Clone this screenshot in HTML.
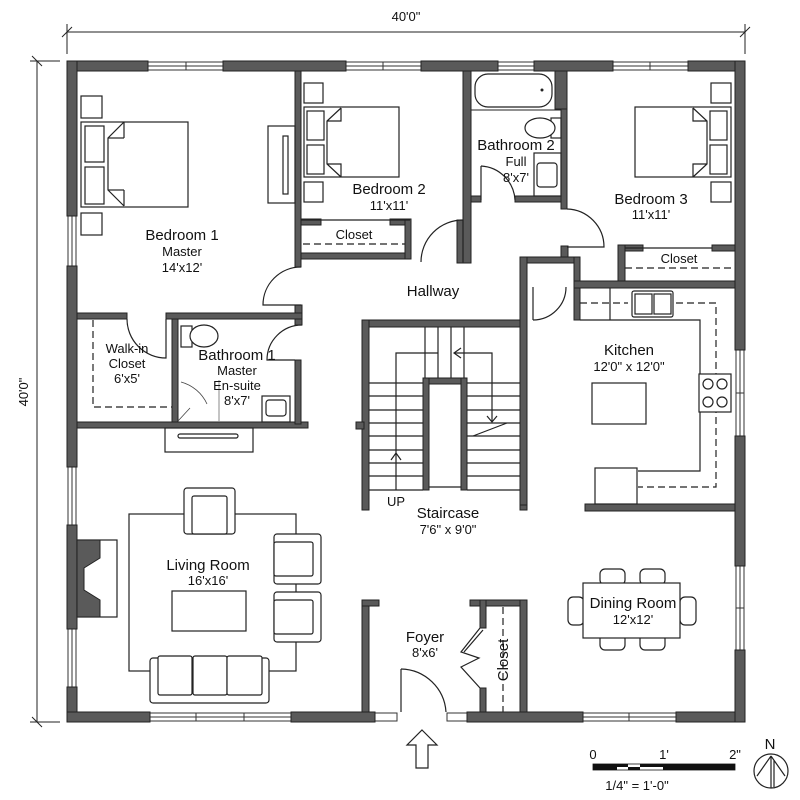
<!DOCTYPE html>
<html><head><meta charset="utf-8"><style>
html,body{margin:0;padding:0;background:#fff;width:800px;height:800px;overflow:hidden}
svg{display:block}
text{font-family:"Liberation Sans",Arial,sans-serif;fill:#111}
</style></head><body>
<svg width="800" height="800" viewBox="0 0 800 800" xmlns="http://www.w3.org/2000/svg">
<defs>
<style>
.w{fill:#5a5a5a;stroke:#222;stroke-width:1}
.f{fill:#fff;stroke:#222;stroke-width:1.2}
.l{fill:none;stroke:#222;stroke-width:1.2}
.d{fill:none;stroke:#222;stroke-width:1.2;stroke-dasharray:7 4}
.win{fill:#fff;stroke:#333;stroke-width:1}
.t1{font-size:15px;text-anchor:middle}
.t2{font-size:13px;text-anchor:middle}
</style>
</defs>

<!-- dimensions -->
<line x1="67" y1="32" x2="745" y2="32" stroke="#222"/>
<line x1="67" y1="24" x2="67" y2="54" stroke="#222"/>
<line x1="745" y1="24" x2="745" y2="54" stroke="#222"/>
<line x1="62" y1="37" x2="72" y2="27" stroke="#222"/>
<line x1="740" y1="37" x2="750" y2="27" stroke="#222"/>
<text x="406" y="21" class="t2">40'0"</text>
<line x1="37" y1="61" x2="37" y2="722" stroke="#222"/>
<line x1="30" y1="61" x2="60" y2="61" stroke="#222"/>
<line x1="30" y1="722" x2="60" y2="722" stroke="#222"/>
<line x1="32" y1="56" x2="42" y2="66" stroke="#222"/>
<line x1="32" y1="717" x2="42" y2="727" stroke="#222"/>
<text x="28" y="392" class="t2" transform="rotate(-90 28 392)">40'0"</text>

<!-- windows (outer) -->
<g class="win">
<rect x="148" y="62" width="75" height="8"/><rect x="346" y="62" width="75" height="8"/>
<rect x="498" y="62" width="36" height="8"/><rect x="613" y="62" width="75" height="8"/>
<rect x="68" y="216" width="8" height="50"/><rect x="68" y="467" width="8" height="58"/><rect x="68" y="629" width="8" height="58"/>
<rect x="150" y="713" width="141" height="8"/><rect x="375" y="713" width="22" height="8"/><rect x="447" y="713" width="20" height="8"/>
<rect x="583" y="713" width="93" height="8"/>
<rect x="736" y="350" width="8" height="86"/><rect x="736" y="566" width="8" height="84"/>
</g>
<g stroke="#333">
<line x1="148" y1="66" x2="223" y2="66"/><line x1="346" y1="66" x2="421" y2="66"/><line x1="498" y1="66" x2="534" y2="66"/><line x1="613" y1="66" x2="688" y2="66"/>
<line x1="150" y1="717" x2="291" y2="717"/><line x1="583" y1="717" x2="676" y2="717"/>
<line x1="72" y1="216" x2="72" y2="266"/><line x1="72" y1="467" x2="72" y2="525"/><line x1="72" y1="629" x2="72" y2="687"/>
<line x1="740" y1="350" x2="740" y2="436"/><line x1="740" y1="566" x2="740" y2="650"/>
<line x1="186" y1="62" x2="186" y2="70"/><line x1="383" y1="62" x2="383" y2="70"/><line x1="650" y1="62" x2="650" y2="70"/>
<line x1="196" y1="713" x2="196" y2="721"/><line x1="244" y1="713" x2="244" y2="721"/><line x1="629" y1="713" x2="629" y2="721"/>
<line x1="736" y1="393" x2="744" y2="393"/><line x1="736" y1="608" x2="744" y2="608"/>
</g>

<!-- outer walls -->
<g class="w">
<rect x="67" y="61" width="81" height="10"/><rect x="223" y="61" width="123" height="10"/>
<rect x="421" y="61" width="77" height="10"/><rect x="534" y="61" width="79" height="10"/><rect x="688" y="61" width="57" height="10"/>
<rect x="67" y="61" width="10" height="155"/><rect x="67" y="266" width="10" height="201"/><rect x="67" y="525" width="10" height="104"/><rect x="67" y="687" width="10" height="35"/>
<rect x="67" y="712" width="83" height="10"/><rect x="291" y="712" width="84" height="10"/><rect x="467" y="712" width="116" height="10"/><rect x="676" y="712" width="69" height="10"/>
<rect x="735" y="61" width="10" height="289"/><rect x="735" y="436" width="10" height="130"/><rect x="735" y="650" width="10" height="72"/>
</g>

<!-- interior walls -->
<g class="w">
<rect x="295" y="71" width="6" height="196"/>
<rect x="295" y="305" width="7" height="20"/>
<rect x="77" y="313" width="50" height="6"/><rect x="166" y="313" width="136" height="6"/>
<rect x="172" y="319" width="6" height="105"/>
<rect x="77" y="422" width="231" height="6"/>
<rect x="295" y="360" width="6" height="64"/>
<rect x="301" y="219" width="20" height="6"/><rect x="390" y="219" width="20" height="6"/>
<rect x="301" y="253" width="110" height="6"/><rect x="405" y="219" width="6" height="40"/>
<rect x="463" y="71" width="8" height="192"/>
<rect x="457" y="220" width="6" height="43"/>
<rect x="471" y="196" width="10" height="6"/><rect x="515" y="196" width="48" height="6"/>
<rect x="555" y="71" width="12" height="38"/>
<rect x="561" y="109" width="6" height="100"/>
<rect x="561" y="246" width="7" height="17"/>
<rect x="520" y="257" width="60" height="6"/>
<rect x="520" y="257" width="7" height="253"/>
<rect x="574" y="257" width="6" height="63"/>
<rect x="618" y="245" width="25" height="6"/><rect x="712" y="245" width="23" height="6"/>
<rect x="618" y="245" width="7" height="42"/>
<rect x="574" y="281" width="161" height="7"/>
<rect x="362" y="320" width="158" height="7"/>
<rect x="362" y="320" width="7" height="190"/>
<rect x="356" y="422" width="8" height="7"/>
<rect x="423" y="378" width="44" height="6"/>
<rect x="423" y="378" width="6" height="112"/><rect x="461" y="378" width="6" height="112"/>
<rect x="520" y="505" width="7" height="5"/>
<rect x="585" y="504" width="150" height="7"/>
<rect x="362" y="600" width="7" height="112"/><rect x="362" y="600" width="17" height="6"/>
<rect x="470" y="600" width="57" height="6"/><rect x="480" y="600" width="6" height="28"/><rect x="480" y="688" width="6" height="24"/>
<rect x="520" y="600" width="7" height="112"/>
</g>

<!-- doors -->
<g class="l">
<path d="M301 267 A38 38 0 0 0 263 305 L301 305"/>
<path d="M127 319 A39 39 0 0 0 166 358 L166 319"/>
<path d="M302 325 A35 35 0 0 0 267 360 L295 360"/>
<path d="M463 220 A42 42 0 0 0 421 262"/><line x1="463" y1="220" x2="463" y2="262"/>
<path d="M481 166 A36 36 0 0 1 515 200"/><line x1="481" y1="166" x2="481" y2="200"/>
<path d="M567 209 A38 38 0 0 1 604 247 L567 247"/>
<path d="M533 320 A33 33 0 0 0 566 287"/><line x1="533" y1="287" x2="533" y2="320"/>
<path d="M401 669 A46 46 0 0 1 446 712"/><line x1="401" y1="669" x2="401" y2="712"/>
<path d="M480 628 L461 652 L479 658 L461 667 L480 688"/>
<path d="M483 630 L464 652"/>
<line x1="301" y1="220" x2="410" y2="220"/>
<line x1="625" y1="248" x2="712" y2="248"/>
</g>
<line x1="303" y1="244" x2="405" y2="244" class="d"/>
<line x1="625" y1="268" x2="733" y2="268" class="d"/>
<line x1="503" y1="607" x2="503" y2="712" class="d"/>
<path d="M93 320 L93 407 L172 407" class="d"/>

<!-- Bedroom 1 furniture -->
<g class="f">
<rect x="81" y="96" width="21" height="22"/><rect x="81" y="213" width="21" height="22"/>
<rect x="81" y="122" width="107" height="85"/>
<rect x="85" y="126" width="19" height="36"/><rect x="85" y="167" width="19" height="37"/>
<rect x="268" y="126" width="27" height="77"/>
<rect x="283" y="136" width="5" height="58"/>
</g>
<g class="l">
<path d="M124 122 L108 138 L108 190 L124 206"/>
<line x1="124" y1="122" x2="124" y2="138"/><line x1="108" y1="138" x2="124" y2="138"/>
<line x1="124" y1="190" x2="124" y2="206"/><line x1="108" y1="190" x2="124" y2="190"/>
</g>

<!-- Bedroom 2 furniture -->
<g class="f">
<rect x="304" y="83" width="19" height="20"/><rect x="304" y="182" width="19" height="20"/>
<rect x="304" y="107" width="95" height="70"/>
<rect x="307" y="111" width="17" height="29"/><rect x="307" y="145" width="17" height="29"/>
</g>
<path d="M341 108 L327 121 L327 164 L341 177 M341 108 L341 121 L327 121 M341 177 L341 164 L327 164" class="l"/>

<!-- Bathroom 2 -->
<g class="f">
<rect x="475" y="74" width="77" height="33" rx="13"/>
<rect x="551" y="118" width="10" height="20"/>
<ellipse cx="540" cy="128" rx="15" ry="10"/>
<rect x="534" y="153" width="27" height="43"/>
<rect x="537" y="163" width="20" height="24" rx="3"/>
</g>
<line x1="471" y1="110" x2="561" y2="110" stroke="#222"/>
<circle cx="542" cy="90" r="1.5" fill="#222"/>

<!-- Bedroom 3 furniture -->
<g class="f">
<rect x="711" y="83" width="20" height="20"/><rect x="711" y="182" width="20" height="20"/>
<rect x="635" y="107" width="96" height="70"/>
<rect x="710" y="111" width="17" height="29"/><rect x="710" y="145" width="17" height="29"/>
</g>
<path d="M693 108 L707 121 L707 164 L693 177 M693 108 L693 121 L707 121 M693 177 L693 164 L707 164" class="l"/>

<!-- Bathroom 1 -->
<g class="f">
<rect x="181" y="326" width="11" height="21"/><ellipse cx="204" cy="336" rx="14" ry="11"/>
<rect x="262" y="396" width="28" height="26"/><rect x="266" y="400" width="20" height="16" rx="3"/>
</g>
<path d="M178 421 L190 408 M181 382 A40 40 0 0 1 207 404" fill="none" stroke="#444" stroke-width="0.8"/>
<line x1="219" y1="380" x2="219" y2="422" stroke="#888"/>
<rect x="165" y="428" width="88" height="24" class="f"/>
<rect x="178" y="434" width="60" height="4" class="f" rx="2"/>

<!-- Staircase -->
<g class="l" stroke-width="1">
<line x1="369" y1="383" x2="423" y2="383"/><line x1="369" y1="396" x2="423" y2="396"/><line x1="369" y1="410" x2="423" y2="410"/>
<line x1="369" y1="423" x2="423" y2="423"/><line x1="369" y1="436" x2="423" y2="436"/><line x1="369" y1="450" x2="423" y2="450"/>
<line x1="369" y1="463" x2="423" y2="463"/><line x1="369" y1="476" x2="423" y2="476"/><line x1="369" y1="490" x2="423" y2="490"/>
<line x1="467" y1="383" x2="520" y2="383"/><line x1="467" y1="396" x2="520" y2="396"/><line x1="467" y1="410" x2="520" y2="410"/>
<line x1="467" y1="423" x2="520" y2="423"/><line x1="467" y1="436" x2="520" y2="436"/><line x1="467" y1="450" x2="520" y2="450"/>
<line x1="467" y1="463" x2="520" y2="463"/><line x1="467" y1="476" x2="520" y2="476"/><line x1="467" y1="490" x2="520" y2="490"/>
<line x1="425" y1="327" x2="425" y2="378"/><line x1="438" y1="327" x2="438" y2="378"/><line x1="451" y1="327" x2="451" y2="378"/><line x1="464" y1="327" x2="464" y2="378"/>
<line x1="429" y1="487" x2="461" y2="487"/>
<path d="M396 490 L396 353 L438 353 M455 353 L492 353 L492 422"/>
<path d="M391 460 L396 453 L401 460"/>
<path d="M461 348 L454 353 L461 358"/>
<path d="M487 416 L492 422 L497 416"/>
<line x1="473" y1="436" x2="507" y2="423"/>
</g>

<!-- Kitchen -->
<g class="l">
<path d="M580 320 L700 320 L700 471 L638 471"/>
<line x1="610" y1="288" x2="610" y2="320"/>
</g>
<path d="M580 303 L628 303 M676 303 L716 303 L716 487 L638 487" class="d"/>
<g class="f">
<rect x="632" y="291" width="41" height="26" rx="2"/><rect x="635" y="294" width="17" height="20"/><rect x="654" y="294" width="17" height="20"/>
<rect x="699" y="374" width="32" height="38"/>
<circle cx="708" cy="384" r="5"/><circle cx="722" cy="384" r="5"/><circle cx="708" cy="402" r="5"/><circle cx="722" cy="402" r="5"/>
<rect x="592" y="383" width="54" height="41"/>
<rect x="595" y="468" width="42" height="36"/>
</g>

<!-- Living room -->
<rect x="129" y="514" width="167" height="157" class="f"/>
<g class="f">
<rect x="184" y="488" width="51" height="46" rx="3"/><rect x="192" y="496" width="35" height="38" rx="2"/>
<rect x="274" y="534" width="47" height="50" rx="3"/><rect x="274" y="542" width="39" height="34" rx="2"/>
<rect x="274" y="592" width="47" height="50" rx="3"/><rect x="274" y="600" width="39" height="34" rx="2"/>
<rect x="172" y="591" width="74" height="40"/>
<rect x="150" y="658" width="119" height="45" rx="3"/>
<rect x="158" y="656" width="34" height="39" rx="2"/><rect x="193" y="656" width="34" height="39" rx="2"/><rect x="227" y="656" width="35" height="39" rx="2"/>
</g>
<rect x="77" y="540" width="40" height="77" class="f"/>
<path d="M77 540 L100 540 L100 558 L84 568 L84 590 L100 600 L100 617 L77 617 Z" fill="#5a5a5a" stroke="#222"/>

<!-- Dining -->
<g class="f">
<rect x="600" y="569" width="25" height="16" rx="5"/><rect x="640" y="569" width="25" height="16" rx="5"/>
<rect x="600" y="634" width="25" height="16" rx="5"/><rect x="640" y="634" width="25" height="16" rx="5"/>
<rect x="568" y="597" width="16" height="28" rx="5"/><rect x="680" y="597" width="16" height="28" rx="5"/>
<rect x="583" y="583" width="97" height="55"/>
</g>

<!-- entry arrow -->
<path d="M422 730 L437 745 L428 745 L428 768 L416 768 L416 745 L407 745 Z" fill="#fff" stroke="#222" stroke-width="1.2"/>

<!-- scale -->
<rect x="593" y="764" width="142" height="6" fill="#111"/>
<rect x="617" y="767" width="11" height="3" fill="#fff"/><rect x="628" y="764" width="12" height="3" fill="#fff"/><rect x="640" y="767" width="23" height="3" fill="#fff"/>
<rect x="593" y="764" width="142" height="6" fill="none" stroke="#111" stroke-width="0.8"/>
<text x="593" y="759" class="t2">0</text><text x="664" y="759" class="t2">1'</text><text x="735" y="759" class="t2">2"</text>
<text x="637" y="790" class="t2">1/4" = 1'-0"</text>
<text x="770" y="749" class="t2" style="font-size:15px">N</text>
<circle cx="771" cy="771" r="17" fill="none" stroke="#222" stroke-width="1.2"/>
<path d="M771 756 L771 788 M771 756 L757 776 M771 756 L785 776 M774 760 L774 787" fill="none" stroke="#222" stroke-width="1.2"/>

<!-- labels -->
<text x="182" y="240" class="t1">Bedroom 1</text><text x="182" y="256" class="t2">Master</text><text x="182" y="272" class="t2">14'x12'</text>
<text x="389" y="194" class="t1">Bedroom 2</text><text x="389" y="210" class="t2">11'x11'</text>
<text x="516" y="150" class="t1">Bathroom 2</text><text x="516" y="166" class="t2">Full</text><text x="516" y="182" class="t2">8'x7'</text>
<text x="651" y="204" class="t1">Bedroom 3</text><text x="651" y="219" class="t2">11'x11'</text>
<text x="354" y="239" class="t2">Closet</text><text x="679" y="263" class="t2">Closet</text>
<text x="433" y="296" class="t1">Hallway</text>
<text x="127" y="353" class="t2">Walk-in</text><text x="127" y="368" class="t2">Closet</text><text x="127" y="383" class="t2">6'x5'</text>
<text x="237" y="360" class="t1">Bathroom 1</text><text x="237" y="375" class="t2">Master</text><text x="237" y="390" class="t2">En-suite</text><text x="237" y="405" class="t2">8'x7'</text>
<text x="629" y="355" class="t1">Kitchen</text><text x="629" y="371" class="t2">12'0" x 12'0"</text>
<text x="396" y="506" class="t2">UP</text>
<text x="448" y="518" class="t1">Staircase</text><text x="448" y="534" class="t2">7'6" x 9'0"</text>
<text x="208" y="570" class="t1">Living Room</text><text x="208" y="585" class="t2">16'x16'</text>
<text x="633" y="608" class="t1">Dining Room</text><text x="633" y="624" class="t2">12'x12'</text>
<text x="425" y="642" class="t1">Foyer</text><text x="425" y="657" class="t2">8'x6'</text>
<text x="508" y="660" class="t1" transform="rotate(-90 508 660)">Closet</text>
</svg>
</body></html>
